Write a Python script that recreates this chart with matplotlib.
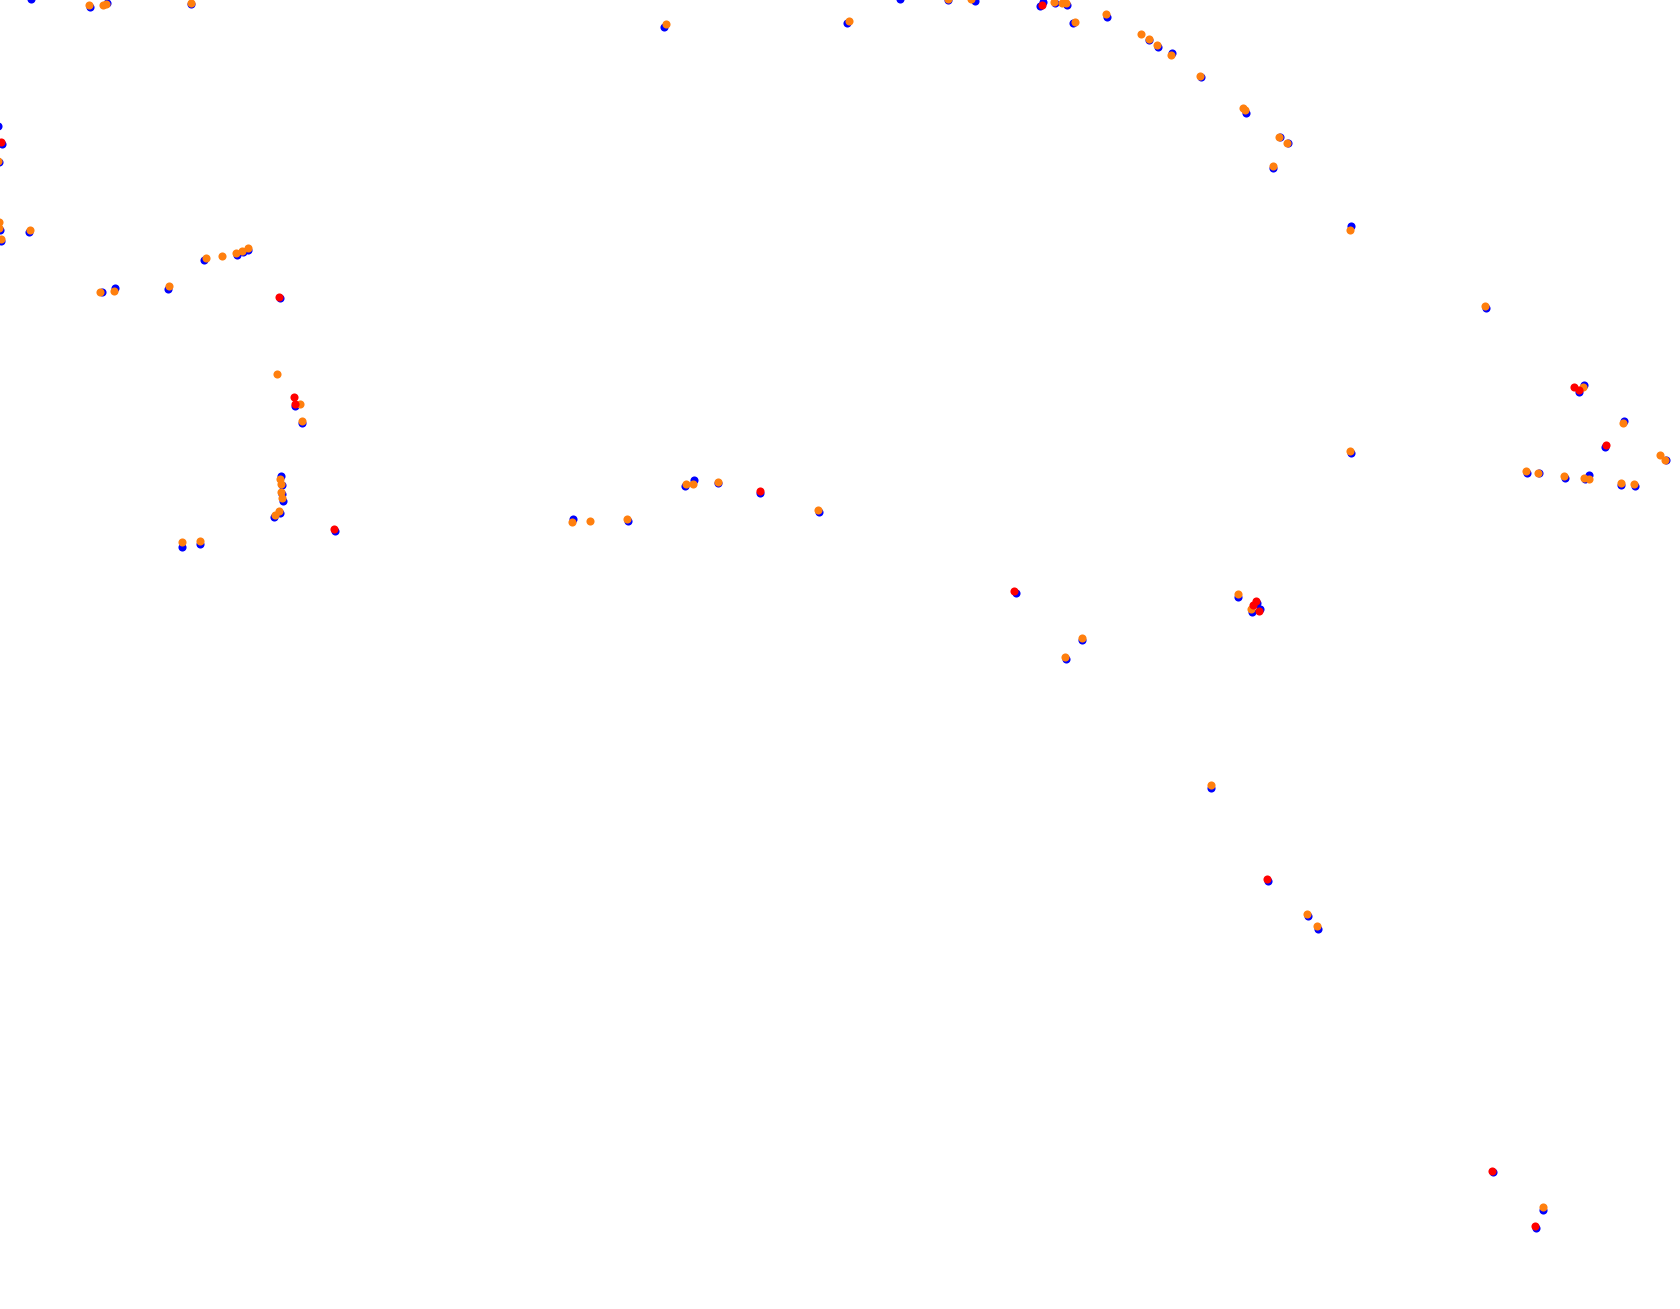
import matplotlib
matplotlib.use('Agg')
import matplotlib.pyplot as plt

# blue points (drawn first, sit underneath)
blue_x = [31, 90, 107, 191, -2, 2, -1, 0, 1, 29, 204, 237, 243, 248, 102, 115, 168, 280,
          295, 302, 281, 282, 282, 283, 280, 274, 335,
          182, 200, 573, 628, 685, 694, 718, 760, 819,
          664, 847, 900, 948, 975, 1040, 1043, 1055, 1067, 1073, 1107, 1149, 1158, 1172,
          1201, 1246, 1280, 1288, 1273, 1351, 1486, 1351,
          1579, 1584, 1624, 1605, 1666, 1527, 1539, 1565, 1585, 1589, 1621, 1635,
          1016, 1082, 1066, 1238, 1257, 1252, 1260,
          1211, 1268, 1308, 1318, 1493, 1543, 1536]
blue_y = [-1, 7, 3, 4, 126, 144, 162, 230, 241, 232, 260, 255, 252, 250, 292, 288, 289, 298,
          406, 423, 476, 485, 494, 501, 513, 517, 531,
          547, 544, 519, 521, 486, 480, 483, 493, 512,
          27, 23, -1, 0, 1, 6, 2, 3, 5, 23, 17, 40, 47, 53,
          77, 113, 137, 143, 168, 226, 308, 453,
          392, 385, 421, 447, 460, 473, 473, 478, 479, 475, 485, 486,
          593, 640, 659, 597, 603, 612, 609,
          788, 881, 916, 929, 1172, 1210, 1228]

# orange points
orange_x = [89, 103, 106, 191, -2, -1, -1, 1, 30, 206, 222, 236, 242, 248, 100, 114, 169,
            277, 300, 302, 280, 281, 281, 282, 279, 275,
            182, 200, 572, 590, 627, 686, 693, 718, 818,
            666, 849, 948, 971, 1054, 1062, 1066, 1075, 1106, 1141, 1149, 1157, 1171,
            1200, 1243, 1245, 1279, 1287, 1273, 1350, 1485, 1350,
            1583, 1623, 1660, 1665, 1526, 1538, 1564, 1584, 1589, 1621, 1634,
            1082, 1065, 1238, 1251, 1211, 1307, 1317, 1543]
orange_y = [5, 5, 4, 3, 161, 222, 228, 239, 230, 258, 256, 253, 251, 248, 292, 291, 286,
            374, 404, 421, 479, 484, 492, 498, 511, 515,
            542, 541, 522, 521, 519, 484, 484, 482, 510,
            24, 21, -1, -1, 2, 3, 3, 22, 14, 34, 39, 45, 55,
            76, 108, 110, 137, 143, 166, 230, 306, 451,
            387, 423, 455, 460, 471, 473, 476, 478, 479, 483, 484,
            638, 657, 594, 609, 785, 914, 926, 1207]

# red points (drawn last)
red_x = [1, 279, 294, 295, 334, 760, 1042, 1574, 1579, 1606, 1014, 1256, 1253, 1259,
         1267, 1492, 1535]
red_y = [142, 297, 397, 404, 529, 491, 5, 387, 390, 445, 591, 601, 605, 611,
         879, 1171, 1226]

fig = plt.figure(figsize=(16.8, 13.09), dpi=100)
ax = fig.add_axes([0, 0, 1, 1])

ax.scatter(blue_x, blue_y, s=34, c='blue', linewidths=0)
ax.scatter(orange_x, orange_y, s=34, c='#ff7f0e', linewidths=0)
ax.scatter(red_x, red_y, s=34, c='red', linewidths=0)

ax.set_xlim(0, 1680)
ax.set_ylim(1309, 0)
ax.axis('off')

fig.savefig('out.png', dpi=100, facecolor='white')
